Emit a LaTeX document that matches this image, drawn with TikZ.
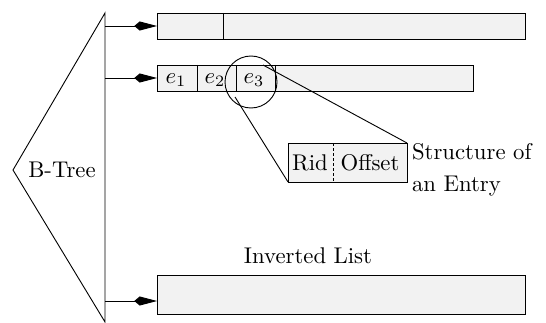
\documentclass[tikz,border=0pt]{standalone}
\usetikzlibrary{arrows.meta}
\tikzset{
  bar/.style={draw,fill=black!5},
  ptr/.style={-{Kite[length=10pt,width=4pt,inset=2.4pt]}},
}
\begin{document}
\begin{tikzpicture}[x=0.44pt,y=-0.44pt,line width=0.4pt]
\useasboundingbox (0,0) rectangle (546,322);
% B-Tree
\draw (105,13) coordinate (top) -- (13,170) coordinate (tip) -- (105,322) coordinate (bot) -- cycle;
\node (btree) at (62,170) {B-Tree};
% lists
\draw[bar] (157,13) rectangle (525,39);
\draw (223,13)--(223,39);
\draw[bar] (157,65) rectangle (473,91);
\foreach \x in {197,236,275} \draw (\x,65)--(\x,91);
\node (e1) at (176,80) {$e_1$};
\node (e2) at (215,80) {$e_2$};
\node (e3) at (254,80) {$e_3$};
\draw[bar] (157,275) rectangle (525,314);
\node (inv) at (308,256) {Inverted List};
% pointers
\coordinate (l1) at (105,26);  \coordinate (b1) at (157,26);
\coordinate (l2) at (105,78);  \coordinate (b2) at (157,78);
\coordinate (l3) at (105,301); \coordinate (b3) at (157,301);
\draw[ptr] (l1)--(b1);
\draw[ptr] (l2)--(b2);
\draw[ptr] (l3)--(b3);
% entry
\draw (251,82) circle (26);
\draw[bar] (288,143) rectangle (407,182);
\coordinate (etr) at (407,143); \coordinate (ebl) at (288,182);
\coordinate (c1) at (263,65); \coordinate (c2) at (235,97);
\draw (c1)--(etr);
\draw (c2)--(ebl);
\draw[dash pattern=on 1.2pt off 1pt] (333,143)--(333,182);
\node (rid) at (310,163) {Rid};
\node (off) at (370,163) {Offset};
\node[anchor=west] (s1) at (404,152) {Structure of};
\node[anchor=west] (s2) at (404,186) {an Entry};
\end{tikzpicture}
\end{document}
